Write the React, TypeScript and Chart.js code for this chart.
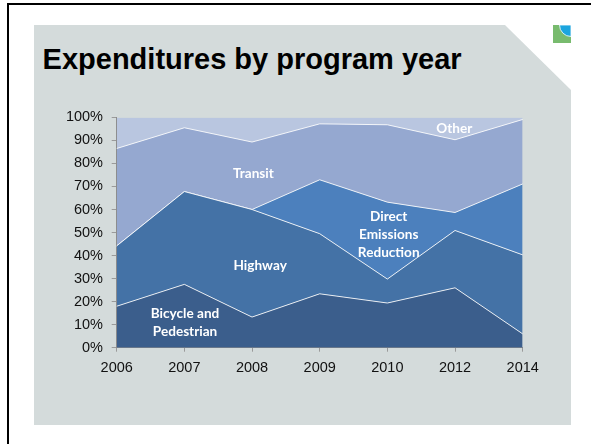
import { useEffect, useRef } from 'react';
import { Chart, registerables } from 'chart.js';

Chart.register(...registerables);

const years = ['2006', '2007', '2008', '2009', '2010', '2012', '2014'];
const bicyclePedestrian = [18, 27.5, 13.3, 23.4, 19.4, 26, 6];
const highway = [26.2, 40.3, 46.7, 26.1, 10.4, 24.9, 34.3];
const directEmissions = [0, 0, 0, 23.4, 33.4, 7.8, 30.8];
const transit = [42.3, 27.7, 29.3, 24.3, 33.6, 31.6, 28];
const other = [13.5, 4.5, 10.7, 2.8, 3.2, 9.7, 0.9];
const yTickValues = [0, 10, 20, 30, 40, 50, 60, 70, 80, 90, 100];

const seriesNames = ['Bicycle and Pedestrian', 'Highway', 'Direct Emissions Reduction', 'Transit', 'Other'];
const seriesValues = [bicyclePedestrian, highway, directEmissions, transit, other];
const seriesColors = ['#3B5E8C', '#4472A6', '#4C80BD', '#95A8D0', '#B9C6E0'];

// in-area labels, anchored in data coordinates (category index, percent)
const areaLabels = [
  { lines: ['Bicycle and', 'Pedestrian'], at: 1.01, value: 10.8 },
  { lines: ['Highway'], at: 2.12, value: 35.6 },
  { lines: ['Direct', 'Emissions', 'Reduction'], at: 4.02, value: 49.2 },
  { lines: ['Transit'], at: 2.02, value: 75.7 },
  { lines: ['Other'], at: 4.99, value: 95.1 },
];

const areaLabelPlugin = {
  id: 'areaLabels',
  afterDatasetsDraw(chart: any) {
    const { ctx, scales } = chart;
    ctx.save();
    ctx.fillStyle = '#ffffff';
    ctx.font = 'bold 13.6px Lato, "Open Sans", sans-serif';
    ctx.textAlign = 'center';
    ctx.textBaseline = 'middle';
    const lh = 18;
    for (const l of areaLabels) {
      const x = scales.x.getPixelForValue(l.at);
      const yc = scales.y.getPixelForValue(l.value);
      const start = yc - ((l.lines.length - 1) * lh) / 2;
      l.lines.forEach((t, i) => ctx.fillText(t, x, start + i * lh));
    }
    ctx.restore();
  },
};

function AreaChart() {
  const ref = useRef<HTMLCanvasElement>(null);
  useEffect(() => {
    if (!ref.current) return;
    const chart = new Chart(ref.current, {
      type: 'line',
      data: {
        labels: years,
        datasets: seriesValues.map((vals, i) => ({
          label: seriesNames[i],
          data: vals,
          backgroundColor: seriesColors[i],
          borderColor: i === seriesValues.length - 1 ? 'rgba(0,0,0,0)' : 'rgba(255,255,255,0.85)',
          borderWidth: i === seriesValues.length - 1 ? 0 : 1,
          pointRadius: 0,
          tension: 0,
          fill: i === 0 ? 'origin' : '-1',
        })),
      },
      options: {
        responsive: false,
        animation: false,
        layout: { padding: { top: 15.2, right: 27.3, left: 0, bottom: 0 } },
        plugins: { legend: { display: false }, tooltip: { enabled: false } },
        scales: {
          x: {
            type: 'category',
            offset: false,
            grid: { drawOnChartArea: false, tickLength: 4, color: '#9a9a9a' },
            border: { color: '#8c8c8c', width: 1 },
            ticks: {
              color: '#111',
              font: { family: '"Liberation Sans", Arial, sans-serif', size: 14.5 },
              padding: 7.5,
              maxRotation: 0,
              autoSkip: false,
            },
            afterFit: (s: any) => { s.height = 42.3; },
          },
          y: {
            stacked: true,
            min: 0,
            max: 100,
            afterBuildTicks: (s: any) => { s.ticks = yTickValues.map((v) => ({ value: v })); },
            grid: { drawOnChartArea: false, tickLength: 5, color: '#9a9a9a' },
            border: { color: '#8c8c8c', width: 1 },
            ticks: {
              color: '#111',
              font: { family: '"Liberation Sans", Arial, sans-serif', size: 14.5 },
              padding: 8.7,
              callback: (v: any) => v + '%',
            },
            afterFit: (s: any) => { s.width = 86.7; },
          },
        },
      },
      plugins: [areaLabelPlugin],
    });
    return () => chart.destroy();
  }, []);
  return <canvas ref={ref} width={520} height={290} style={{ position: 'absolute', left: 30, top: 100, width: 520, height: 290 }} />;
}

export default function App() {
  return (
    <div style={{ position: 'absolute', left: 0, top: 0, width: 591, height: 444, background: '#fff', overflow: 'hidden' }}>
      <div style={{ position: 'absolute', left: 7, top: 3.4, right: -10, bottom: -10, borderTop: '2px solid #000', borderLeft: '2.2px solid #000' }} />
      <div
        style={{
          position: 'absolute',
          left: 33.5,
          top: 25,
          width: 537.5,
          height: 400,
          background: '#D4DBDB',
          clipPath: 'polygon(0 0, 471.5px 0, 100% 65px, 100% 100%, 0 100%)',
        }}
      />
      <svg style={{ position: 'absolute', left: 553, top: 25 }} width={18} height={18} viewBox="0 0 18 18">
        <rect x={0} y={0} width={18} height={18} fill="#78BB6E" />
        <path d="M 6.5 0 A 11.5 11.5 0 0 0 18 11.5 L 18 0 Z" fill="#1CA5DE" stroke="#ffffff" strokeWidth={0.8} />
      </svg>
      <div
        style={{
          position: 'absolute',
          left: 42.6,
          top: 44.5,
          fontFamily: '"Liberation Sans", Arial, sans-serif',
          fontWeight: 'bold',
          fontSize: 29,
          lineHeight: '29px',
          color: '#000',
          whiteSpace: 'nowrap',
        }}
      >
        Expenditures by program year
      </div>
      <AreaChart />
    </div>
  );
}
